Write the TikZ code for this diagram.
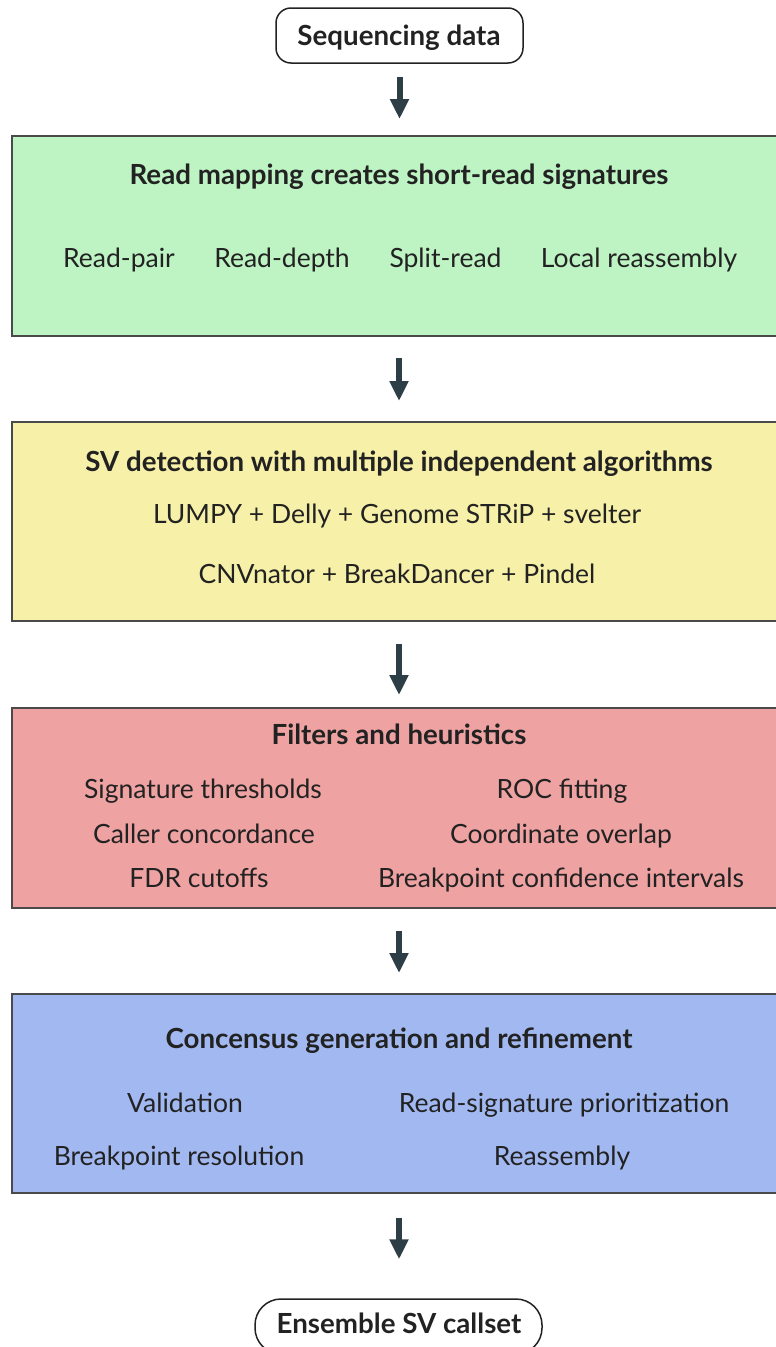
\documentclass[tikz,border=0pt]{standalone}
\usepackage{fontspec}
\setmainfont{Lato}
\usetikzlibrary{arrows.meta}

\definecolor{mapgreen}{HTML}{BEF3C4}
\definecolor{detyellow}{HTML}{F7F0A8}
\definecolor{filtred}{HTML}{EEA2A2}
\definecolor{consblue}{HTML}{A2B8F0}
\definecolor{boxline}{HTML}{4A4A4A}
\definecolor{arrowc}{HTML}{2E3E46}
\definecolor{ink}{HTML}{222222}

\begin{document}
\begin{tikzpicture}[x=1pt, y=-1pt,
          stage/.style = {draw=boxline, line width=2pt, minimum width=774pt, inner sep=0pt},
          term/.style = {draw=ink, line width=1.5pt, inner sep=0pt, minimum height=55pt},
          head/.style = {anchor=base, text=ink, font=\fontsize{27.7}{32}\selectfont\bfseries},
          item/.style = {anchor=base, text=ink, font=\fontsize{26.5}{31}\selectfont},
          flow/.style = {draw=arrowc, line width=6pt, -{Triangle[width=18pt, length=20pt]}}]
        \useasboundingbox (0,0) rectangle (776,1347);
        \clip (0,0) rectangle (776,1347);
        % start and end
        \node[term, rounded corners=15pt, minimum width=247pt] (seq) at (399.5,35.5) {};
        \node[head] (seqtxt) at (399,45) {Sequencing data};
        \node[term, rounded corners=26pt, minimum width=287pt] (ens) at (398.5,1326.5) {};
        \node[head] (enstxt) at (399,1333) {Ensemble SV callset};
        % stages
        \node[stage, fill=mapgreen, minimum height=200pt] (map) at (399,236) {};
        \node[stage, fill=detyellow, minimum height=199pt] (det) at (399,521.5) {};
        \node[stage, fill=filtred, minimum height=200pt] (filt) at (399,808) {};
        \node[stage, fill=consblue, minimum height=199pt] (cons) at (399,1093.5) {};
        % read mapping
        \node[head] (maphead) at (399,184) {Read mapping creates short-read signatures};
        \node[item] (rpair) at (119,267) {Read-pair};
        \node[item] (rdepth) at (282,267) {Read-depth};
        \node[item] (split) at (445.5,267) {Split-read};
        \node[item] (local) at (639,267) {Local reassembly};
        % detection
        \node[head] (dethead) at (399,471) {SV detection with multiple independent algorithms};
        \node[item] (callers1) at (397,523) {LUMPY + Delly + Genome STRiP + svelter};
        \node[item] (callers2) at (397,583) {CNVnator + BreakDancer + Pindel};
        % filters
        \node[head] (filthead) at (399,744) {Filters and heuristics};
        \node[item] (sigthr) at (203,798) {Signature thresholds};
        \node[item] (concord) at (204,843) {Caller concordance};
        \node[item] (fdr) at (199,887) {FDR cutoffs};
        \node[item] (roc) at (562,798) {ROC fitting};
        \node[item] (overlap) at (561,843) {Coordinate overlap};
        \node[item] (bpci) at (561,887) {Breakpoint confidence intervals};
        % consensus
        \node[head] (conshead) at (399,1048) {Concensus generation and refinement};
        \node[item] (valid) at (185,1112) {Validation};
        \node[item] (bpres) at (179,1165) {Breakpoint resolution};
        \node[item] (prior) at (564,1112) {Read-signature prioritization};
        \node[item] (reasm) at (562,1165) {Reassembly};
        % arrows
        \foreach \a/\b/\s/\e in {seq/map/13/16, map/det/21/20, det/filt/22/12,
                                 filt/cons/22/20, cons/ens/24/39}
                 {
                   \draw[flow, shorten <=\s pt, shorten >=\e pt] (\a.south) -- (\a.south |- \b.north);
                 }
      \end{tikzpicture}
\end{document}
